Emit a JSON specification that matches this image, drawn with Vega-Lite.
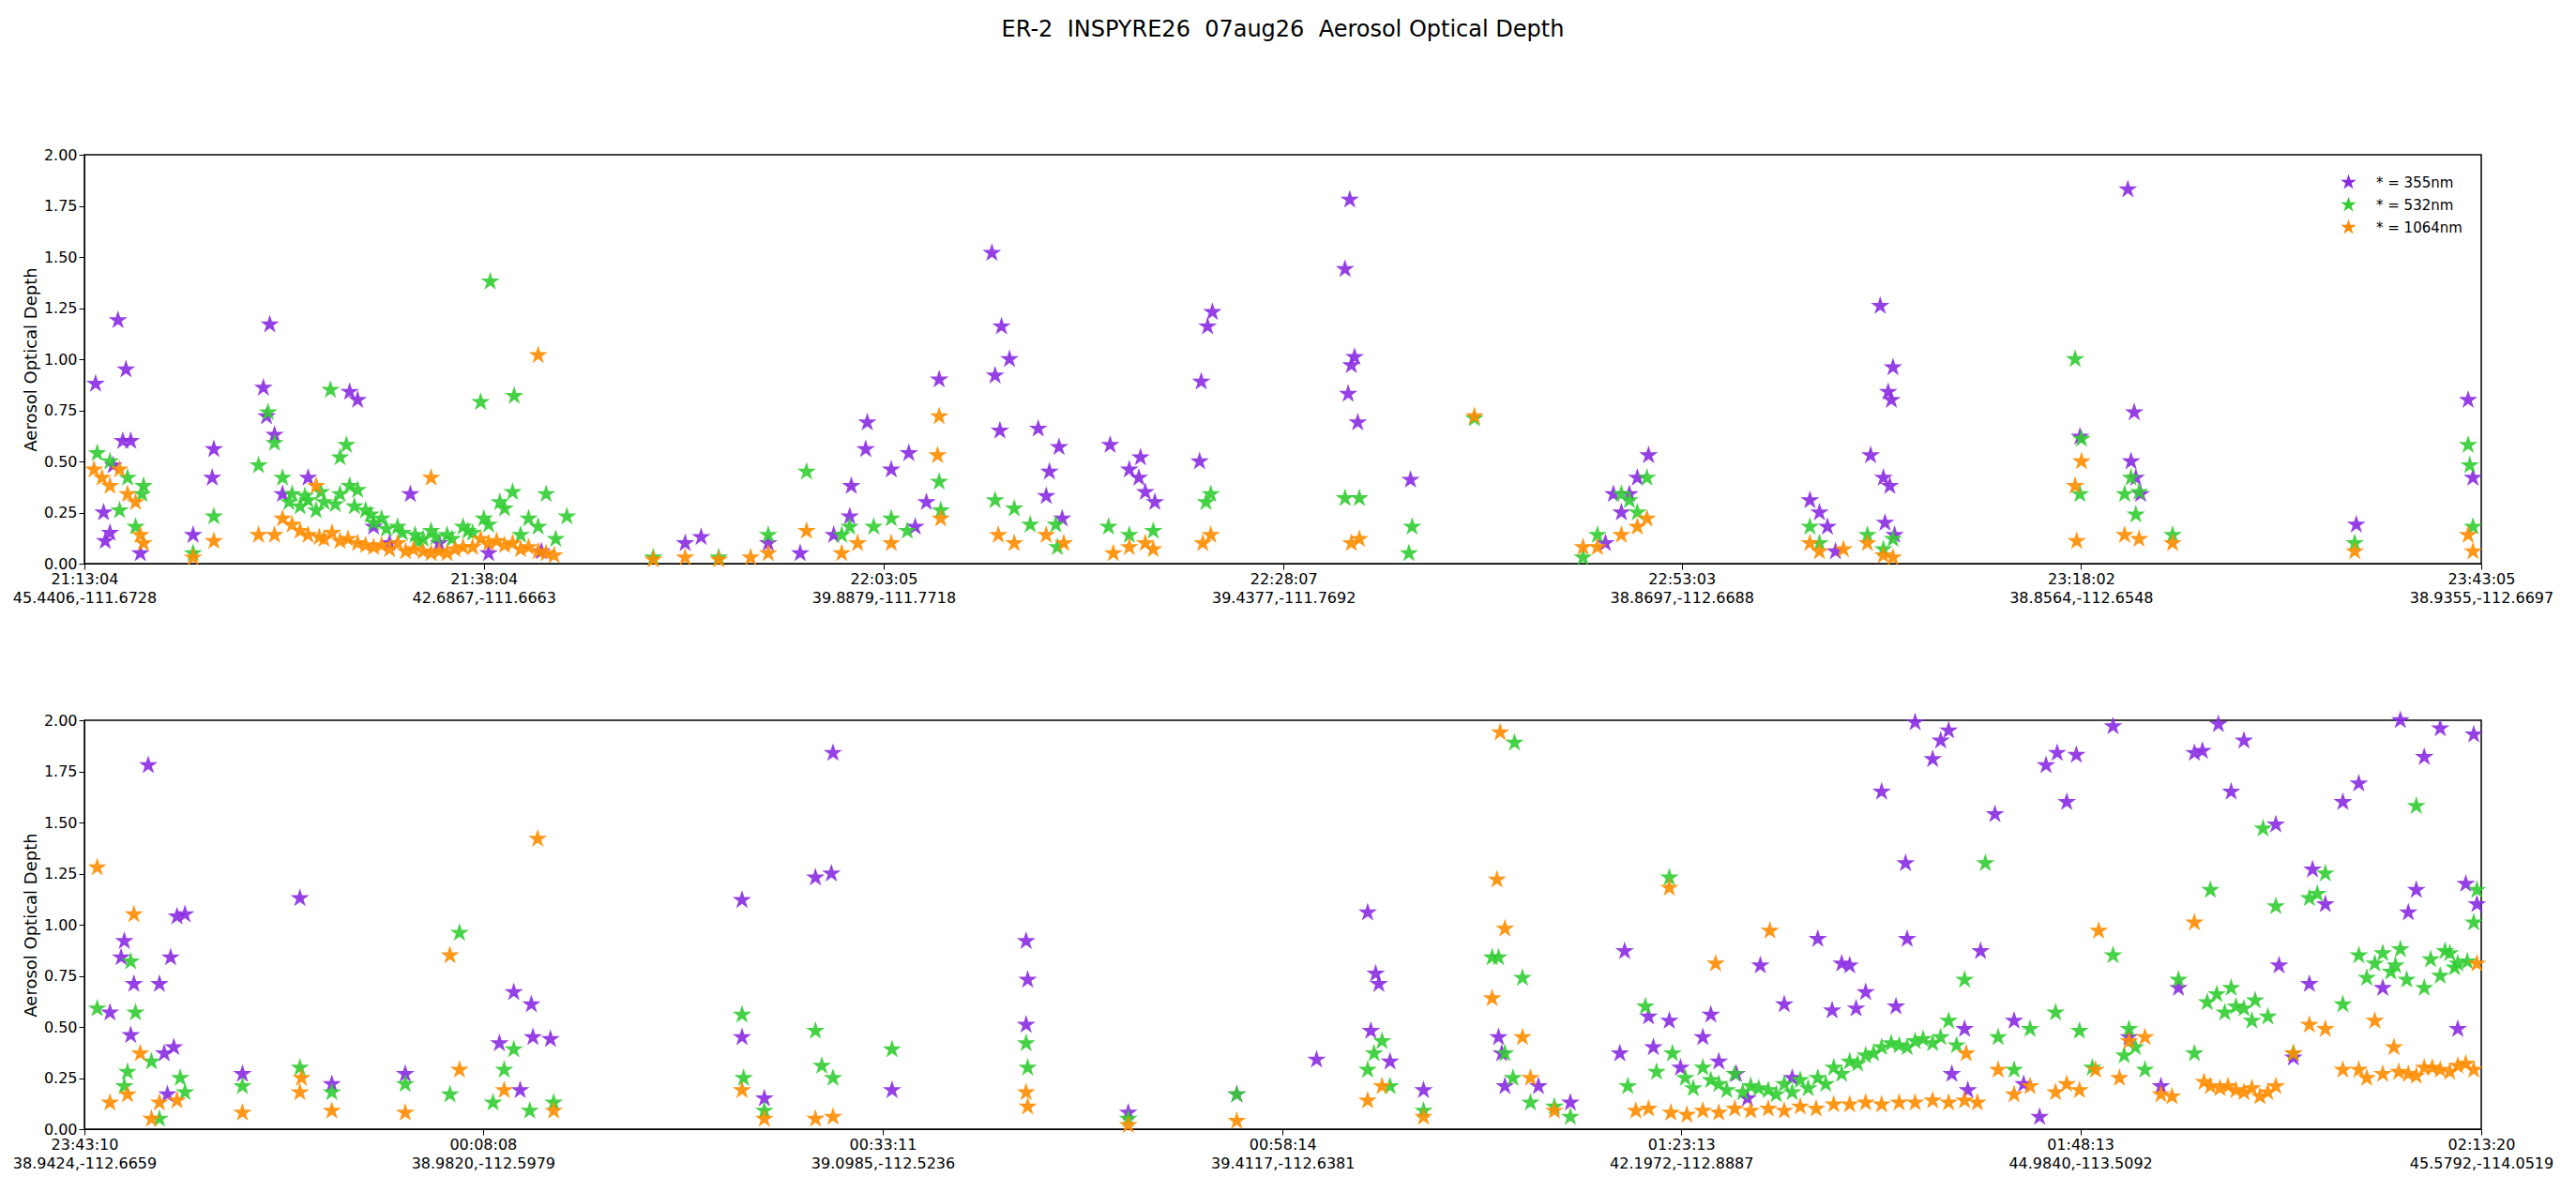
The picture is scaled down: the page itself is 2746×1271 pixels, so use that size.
{
"$schema":"https://vega.github.io/schema/vega-lite/v6.json",
"background":"white",
"padding":{"left":12,"top":20,"right":5,"bottom":5},
"title":{"text":"ER-2\u00a0\u00a0INSPYRE26\u00a0\u00a007aug26\u00a0\u00a0Aerosol Optical Depth","anchor":"middle","frame":"group","fontSize":24,"fontWeight":"normal","font":"DejaVu Sans","offset":112,"color":"black"},
"config":{"font":"DejaVu Sans","view":{"stroke":"black","strokeWidth":1.5},"axis":{"grid":false,"domainColor":"black","tickColor":"black","labelColor":"black","labelFontSize":16,"titleFontSize":18,"titleFontWeight":"normal","titleColor":"black","tickSize":6,"labelLineHeight":20,"labelFlush":false}},
"data":{"values":[
{"p":1,"b":"* = 355nm","t":0.7,"a":0.88},{"p":1,"b":"* = 355nm","t":1.3,"a":0.11},{"p":1,"b":"* = 355nm","t":2.1,"a":1.19},{"p":1,"b":"* = 355nm","t":2.6,"a":0.95},{"p":1,"b":"* = 355nm","t":2.4,"a":0.6},{"p":1,"b":"* = 355nm","t":2.9,"a":0.6},{"p":1,"b":"* = 355nm","t":1.8,"a":0.48},{"p":1,"b":"* = 355nm","t":1.2,"a":0.25},{"p":1,"b":"* = 355nm","t":1.6,"a":0.15},{"p":1,"b":"* = 355nm","t":3.5,"a":0.05},
{"p":1,"b":"* = 355nm","t":6.8,"a":0.14},{"p":1,"b":"* = 355nm","t":8.1,"a":0.56},{"p":1,"b":"* = 355nm","t":8.0,"a":0.42},{"p":1,"b":"* = 355nm","t":11.2,"a":0.86},{"p":1,"b":"* = 355nm","t":11.6,"a":1.17},{"p":1,"b":"* = 355nm","t":11.9,"a":0.63},{"p":1,"b":"* = 355nm","t":11.4,"a":0.72},{"p":1,"b":"* = 355nm","t":12.4,"a":0.34},{"p":1,"b":"* = 355nm","t":14.0,"a":0.42},{"p":1,"b":"* = 355nm","t":16.6,"a":0.84},{"p":1,"b":"* = 355nm","t":17.1,"a":0.8},{"p":1,"b":"* = 355nm","t":20.4,"a":0.34},{"p":1,"b":"* = 355nm","t":18.1,"a":0.18},{"p":1,"b":"* = 355nm","t":19.1,"a":0.1},{"p":1,"b":"* = 355nm","t":22.2,"a":0.1},{"p":1,"b":"* = 355nm","t":25.3,"a":0.05},{"p":1,"b":"* = 355nm","t":28.6,"a":0.06},
{"p":1,"b":"* = 355nm","t":37.6,"a":0.1},{"p":1,"b":"* = 355nm","t":38.6,"a":0.13},{"p":1,"b":"* = 355nm","t":42.8,"a":0.1},{"p":1,"b":"* = 355nm","t":44.8,"a":0.05},{"p":1,"b":"* = 355nm","t":46.9,"a":0.14},{"p":1,"b":"* = 355nm","t":47.9,"a":0.23},{"p":1,"b":"* = 355nm","t":48.0,"a":0.38},{"p":1,"b":"* = 355nm","t":49.0,"a":0.69},{"p":1,"b":"* = 355nm","t":48.9,"a":0.56},{"p":1,"b":"* = 355nm","t":50.5,"a":0.46},{"p":1,"b":"* = 355nm","t":51.6,"a":0.54},{"p":1,"b":"* = 355nm","t":53.5,"a":0.9},{"p":1,"b":"* = 355nm","t":52.7,"a":0.3},{"p":1,"b":"* = 355nm","t":52.0,"a":0.18},
{"p":1,"b":"* = 355nm","t":56.8,"a":1.52},{"p":1,"b":"* = 355nm","t":57.4,"a":1.16},{"p":1,"b":"* = 355nm","t":57.0,"a":0.92},{"p":1,"b":"* = 355nm","t":57.9,"a":1.0},{"p":1,"b":"* = 355nm","t":57.3,"a":0.65},{"p":1,"b":"* = 355nm","t":59.7,"a":0.66},{"p":1,"b":"* = 355nm","t":60.4,"a":0.45},{"p":1,"b":"* = 355nm","t":61.0,"a":0.57},{"p":1,"b":"* = 355nm","t":60.2,"a":0.33},{"p":1,"b":"* = 355nm","t":61.2,"a":0.22},
{"p":1,"b":"* = 355nm","t":64.2,"a":0.58},{"p":1,"b":"* = 355nm","t":65.4,"a":0.46},{"p":1,"b":"* = 355nm","t":66.1,"a":0.52},{"p":1,"b":"* = 355nm","t":66.0,"a":0.42},{"p":1,"b":"* = 355nm","t":66.4,"a":0.35},{"p":1,"b":"* = 355nm","t":67.0,"a":0.3},
{"p":1,"b":"* = 355nm","t":69.9,"a":0.89},{"p":1,"b":"* = 355nm","t":70.3,"a":1.16},{"p":1,"b":"* = 355nm","t":70.6,"a":1.23},{"p":1,"b":"* = 355nm","t":69.8,"a":0.5},
{"p":1,"b":"* = 355nm","t":78.9,"a":1.44},{"p":1,"b":"* = 355nm","t":79.2,"a":1.78},{"p":1,"b":"* = 355nm","t":79.5,"a":1.01},{"p":1,"b":"* = 355nm","t":79.1,"a":0.83},{"p":1,"b":"* = 355nm","t":79.3,"a":0.97},{"p":1,"b":"* = 355nm","t":79.7,"a":0.69},{"p":1,"b":"* = 355nm","t":83.0,"a":0.41},
{"p":1,"b":"* = 355nm","t":95.7,"a":0.34},{"p":1,"b":"* = 355nm","t":96.2,"a":0.25},{"p":1,"b":"* = 355nm","t":96.7,"a":0.34},{"p":1,"b":"* = 355nm","t":97.2,"a":0.42},{"p":1,"b":"* = 355nm","t":97.9,"a":0.53},{"p":1,"b":"* = 355nm","t":95.2,"a":0.1},
{"p":1,"b":"* = 355nm","t":108.0,"a":0.31},{"p":1,"b":"* = 355nm","t":108.6,"a":0.25},{"p":1,"b":"* = 355nm","t":109.1,"a":0.18},{"p":1,"b":"* = 355nm","t":109.6,"a":0.06},{"p":1,"b":"* = 355nm","t":111.8,"a":0.53},{"p":1,"b":"* = 355nm","t":112.4,"a":1.26},{"p":1,"b":"* = 355nm","t":112.6,"a":0.42},{"p":1,"b":"* = 355nm","t":113.0,"a":0.38},{"p":1,"b":"* = 355nm","t":113.2,"a":0.96},{"p":1,"b":"* = 355nm","t":112.9,"a":0.84},{"p":1,"b":"* = 355nm","t":113.1,"a":0.8},{"p":1,"b":"* = 355nm","t":112.7,"a":0.2},{"p":1,"b":"* = 355nm","t":113.3,"a":0.14},
{"p":1,"b":"* = 355nm","t":124.9,"a":0.62},{"p":1,"b":"* = 355nm","t":127.9,"a":1.83},{"p":1,"b":"* = 355nm","t":128.3,"a":0.74},{"p":1,"b":"* = 355nm","t":128.1,"a":0.5},{"p":1,"b":"* = 355nm","t":128.7,"a":0.34},{"p":1,"b":"* = 355nm","t":128.4,"a":0.42},{"p":1,"b":"* = 355nm","t":142.2,"a":0.19},{"p":1,"b":"* = 355nm","t":149.2,"a":0.8},{"p":1,"b":"* = 355nm","t":149.5,"a":0.42},

{"p":1,"b":"* = 532nm","t":0.8,"a":0.54},{"p":1,"b":"* = 532nm","t":1.6,"a":0.5},{"p":1,"b":"* = 532nm","t":2.7,"a":0.42},{"p":1,"b":"* = 532nm","t":3.7,"a":0.38},{"p":1,"b":"* = 532nm","t":2.2,"a":0.26},{"p":1,"b":"* = 532nm","t":3.2,"a":0.18},{"p":1,"b":"* = 532nm","t":3.6,"a":0.34},
{"p":1,"b":"* = 532nm","t":6.8,"a":0.05},{"p":1,"b":"* = 532nm","t":8.1,"a":0.23},{"p":1,"b":"* = 532nm","t":10.9,"a":0.48},{"p":1,"b":"* = 532nm","t":11.5,"a":0.74},{"p":1,"b":"* = 532nm","t":11.9,"a":0.59},{"p":1,"b":"* = 532nm","t":12.4,"a":0.42},{"p":1,"b":"* = 532nm","t":13.0,"a":0.34},{"p":1,"b":"* = 532nm","t":14.0,"a":0.31},{"p":1,"b":"* = 532nm","t":15.0,"a":0.3},{"p":1,"b":"* = 532nm","t":16.0,"a":0.34},{"p":1,"b":"* = 532nm","t":16.6,"a":0.38},{"p":1,"b":"* = 532nm","t":17.1,"a":0.36},{"p":1,"b":"* = 532nm","t":15.4,"a":0.85},{"p":1,"b":"* = 532nm","t":16.4,"a":0.58},{"p":1,"b":"* = 532nm","t":16.0,"a":0.52},{"p":1,"b":"* = 532nm","t":17.6,"a":0.26},{"p":1,"b":"* = 532nm","t":18.6,"a":0.22},{"p":1,"b":"* = 532nm","t":19.6,"a":0.18},{"p":1,"b":"* = 532nm","t":20.7,"a":0.14},{"p":1,"b":"* = 532nm","t":21.7,"a":0.16},{"p":1,"b":"* = 532nm","t":22.7,"a":0.14},{"p":1,"b":"* = 532nm","t":23.7,"a":0.18},{"p":1,"b":"* = 532nm","t":24.8,"a":0.79},{"p":1,"b":"* = 532nm","t":25.4,"a":1.38},{"p":1,"b":"* = 532nm","t":25.3,"a":0.19},{"p":1,"b":"* = 532nm","t":26.3,"a":0.27},{"p":1,"b":"* = 532nm","t":26.8,"a":0.35},{"p":1,"b":"* = 532nm","t":26.9,"a":0.82},{"p":1,"b":"* = 532nm","t":27.3,"a":0.14},{"p":1,"b":"* = 532nm","t":28.4,"a":0.18},{"p":1,"b":"* = 532nm","t":28.9,"a":0.34},{"p":1,"b":"* = 532nm","t":30.2,"a":0.23},{"p":1,"b":"* = 532nm","t":13.5,"a":0.28},{"p":1,"b":"* = 532nm","t":14.5,"a":0.26},{"p":1,"b":"* = 532nm","t":18.1,"a":0.2},{"p":1,"b":"* = 532nm","t":21.2,"a":0.12},{"p":1,"b":"* = 532nm","t":24.3,"a":0.15},
{"p":1,"b":"* = 532nm","t":12.8,"a":0.3},{"p":1,"b":"* = 532nm","t":13.8,"a":0.33},{"p":1,"b":"* = 532nm","t":14.8,"a":0.35},{"p":1,"b":"* = 532nm","t":15.7,"a":0.29},{"p":1,"b":"* = 532nm","t":16.9,"a":0.28},{"p":1,"b":"* = 532nm","t":17.9,"a":0.24},{"p":1,"b":"* = 532nm","t":18.9,"a":0.17},{"p":1,"b":"* = 532nm","t":19.9,"a":0.15},{"p":1,"b":"* = 532nm","t":20.9,"a":0.11},{"p":1,"b":"* = 532nm","t":22.0,"a":0.13},{"p":1,"b":"* = 532nm","t":23.0,"a":0.12},{"p":1,"b":"* = 532nm","t":24.0,"a":0.16},{"p":1,"b":"* = 532nm","t":25.0,"a":0.22},{"p":1,"b":"* = 532nm","t":26.0,"a":0.3},{"p":1,"b":"* = 532nm","t":27.8,"a":0.22},{"p":1,"b":"* = 532nm","t":29.5,"a":0.12},
{"p":1,"b":"* = 532nm","t":35.6,"a":0.03},{"p":1,"b":"* = 532nm","t":39.7,"a":0.03},{"p":1,"b":"* = 532nm","t":42.8,"a":0.14},{"p":1,"b":"* = 532nm","t":45.2,"a":0.45},{"p":1,"b":"* = 532nm","t":47.4,"a":0.14},{"p":1,"b":"* = 532nm","t":47.9,"a":0.18},{"p":1,"b":"* = 532nm","t":49.4,"a":0.18},{"p":1,"b":"* = 532nm","t":50.5,"a":0.22},{"p":1,"b":"* = 532nm","t":51.5,"a":0.16},{"p":1,"b":"* = 532nm","t":53.6,"a":0.26},{"p":1,"b":"* = 532nm","t":53.5,"a":0.4},
{"p":1,"b":"* = 532nm","t":57.0,"a":0.31},{"p":1,"b":"* = 532nm","t":58.2,"a":0.27},{"p":1,"b":"* = 532nm","t":59.2,"a":0.19},{"p":1,"b":"* = 532nm","t":60.8,"a":0.19},{"p":1,"b":"* = 532nm","t":60.9,"a":0.08},{"p":1,"b":"* = 532nm","t":64.1,"a":0.18},{"p":1,"b":"* = 532nm","t":65.4,"a":0.14},{"p":1,"b":"* = 532nm","t":66.9,"a":0.16},{"p":1,"b":"* = 532nm","t":70.2,"a":0.3},{"p":1,"b":"* = 532nm","t":70.5,"a":0.34},
{"p":1,"b":"* = 532nm","t":78.9,"a":0.32},{"p":1,"b":"* = 532nm","t":79.8,"a":0.32},{"p":1,"b":"* = 532nm","t":83.1,"a":0.18},{"p":1,"b":"* = 532nm","t":82.9,"a":0.05},{"p":1,"b":"* = 532nm","t":87.0,"a":0.71},
{"p":1,"b":"* = 532nm","t":93.8,"a":0.03},{"p":1,"b":"* = 532nm","t":94.7,"a":0.14},{"p":1,"b":"* = 532nm","t":96.2,"a":0.34},{"p":1,"b":"* = 532nm","t":96.7,"a":0.31},{"p":1,"b":"* = 532nm","t":97.8,"a":0.42},{"p":1,"b":"* = 532nm","t":97.2,"a":0.25},
{"p":1,"b":"* = 532nm","t":108.0,"a":0.18},{"p":1,"b":"* = 532nm","t":108.6,"a":0.1},{"p":1,"b":"* = 532nm","t":111.6,"a":0.14},{"p":1,"b":"* = 532nm","t":112.6,"a":0.07},{"p":1,"b":"* = 532nm","t":113.2,"a":0.12},
{"p":1,"b":"* = 532nm","t":124.6,"a":1.0},{"p":1,"b":"* = 532nm","t":124.9,"a":0.34},{"p":1,"b":"* = 532nm","t":125.0,"a":0.61},{"p":1,"b":"* = 532nm","t":127.7,"a":0.34},{"p":1,"b":"* = 532nm","t":128.1,"a":0.42},{"p":1,"b":"* = 532nm","t":128.6,"a":0.35},{"p":1,"b":"* = 532nm","t":128.4,"a":0.24},{"p":1,"b":"* = 532nm","t":130.7,"a":0.14},{"p":1,"b":"* = 532nm","t":142.1,"a":0.1},{"p":1,"b":"* = 532nm","t":149.2,"a":0.58},{"p":1,"b":"* = 532nm","t":149.3,"a":0.48},{"p":1,"b":"* = 532nm","t":149.5,"a":0.18},

{"p":1,"b":"* = 1064nm","t":0.6,"a":0.46},{"p":1,"b":"* = 1064nm","t":1.1,"a":0.42},{"p":1,"b":"* = 1064nm","t":1.6,"a":0.38},{"p":1,"b":"* = 1064nm","t":2.2,"a":0.46},{"p":1,"b":"* = 1064nm","t":2.7,"a":0.34},{"p":1,"b":"* = 1064nm","t":3.2,"a":0.3},{"p":1,"b":"* = 1064nm","t":3.5,"a":0.14},{"p":1,"b":"* = 1064nm","t":3.7,"a":0.1},{"p":1,"b":"* = 1064nm","t":6.8,"a":0.03},{"p":1,"b":"* = 1064nm","t":8.1,"a":0.11},{"p":1,"b":"* = 1064nm","t":10.9,"a":0.14},{"p":1,"b":"* = 1064nm","t":11.9,"a":0.14},{"p":1,"b":"* = 1064nm","t":12.4,"a":0.22},{"p":1,"b":"* = 1064nm","t":13.0,"a":0.19},
{"p":1,"b":"* = 1064nm","t":14.0,"a":0.14},{"p":1,"b":"* = 1064nm","t":15.0,"a":0.12},{"p":1,"b":"* = 1064nm","t":16.0,"a":0.11},{"p":1,"b":"* = 1064nm","t":17.1,"a":0.1},{"p":1,"b":"* = 1064nm","t":18.1,"a":0.08},{"p":1,"b":"* = 1064nm","t":19.1,"a":0.07},{"p":1,"b":"* = 1064nm","t":20.1,"a":0.06},{"p":1,"b":"* = 1064nm","t":21.2,"a":0.06},{"p":1,"b":"* = 1064nm","t":22.2,"a":0.06},{"p":1,"b":"* = 1064nm","t":23.2,"a":0.07},{"p":1,"b":"* = 1064nm","t":24.3,"a":0.08},{"p":1,"b":"* = 1064nm","t":25.3,"a":0.1},{"p":1,"b":"* = 1064nm","t":26.3,"a":0.09},{"p":1,"b":"* = 1064nm","t":27.3,"a":0.07},{"p":1,"b":"* = 1064nm","t":28.4,"a":0.06},{"p":1,"b":"* = 1064nm","t":29.4,"a":0.04},{"p":1,"b":"* = 1064nm","t":14.5,"a":0.38},{"p":1,"b":"* = 1064nm","t":21.7,"a":0.42},{"p":1,"b":"* = 1064nm","t":28.4,"a":1.02},{"p":1,"b":"* = 1064nm","t":15.5,"a":0.15},{"p":1,"b":"* = 1064nm","t":19.6,"a":0.1},{"p":1,"b":"* = 1064nm","t":24.8,"a":0.12},
{"p":1,"b":"* = 1064nm","t":13.5,"a":0.16},{"p":1,"b":"* = 1064nm","t":14.7,"a":0.13},{"p":1,"b":"* = 1064nm","t":16.5,"a":0.12},{"p":1,"b":"* = 1064nm","t":17.6,"a":0.09},{"p":1,"b":"* = 1064nm","t":18.6,"a":0.09},{"p":1,"b":"* = 1064nm","t":20.6,"a":0.07},{"p":1,"b":"* = 1064nm","t":21.7,"a":0.05},{"p":1,"b":"* = 1064nm","t":22.7,"a":0.05},{"p":1,"b":"* = 1064nm","t":23.7,"a":0.08},{"p":1,"b":"* = 1064nm","t":25.8,"a":0.11},{"p":1,"b":"* = 1064nm","t":26.8,"a":0.1},{"p":1,"b":"* = 1064nm","t":27.8,"a":0.08},{"p":1,"b":"* = 1064nm","t":28.9,"a":0.05},
{"p":1,"b":"* = 1064nm","t":35.6,"a":0.02},{"p":1,"b":"* = 1064nm","t":37.6,"a":0.03},{"p":1,"b":"* = 1064nm","t":39.7,"a":0.02},{"p":1,"b":"* = 1064nm","t":41.7,"a":0.03},{"p":1,"b":"* = 1064nm","t":42.8,"a":0.05},{"p":1,"b":"* = 1064nm","t":45.2,"a":0.16},{"p":1,"b":"* = 1064nm","t":47.4,"a":0.05},{"p":1,"b":"* = 1064nm","t":48.4,"a":0.1},{"p":1,"b":"* = 1064nm","t":50.5,"a":0.1},{"p":1,"b":"* = 1064nm","t":53.5,"a":0.72},{"p":1,"b":"* = 1064nm","t":53.4,"a":0.53},{"p":1,"b":"* = 1064nm","t":53.6,"a":0.22},
{"p":1,"b":"* = 1064nm","t":57.2,"a":0.14},{"p":1,"b":"* = 1064nm","t":58.2,"a":0.1},{"p":1,"b":"* = 1064nm","t":60.2,"a":0.14},{"p":1,"b":"* = 1064nm","t":61.3,"a":0.1},{"p":1,"b":"* = 1064nm","t":64.4,"a":0.05},{"p":1,"b":"* = 1064nm","t":65.4,"a":0.08},{"p":1,"b":"* = 1064nm","t":66.4,"a":0.1},{"p":1,"b":"* = 1064nm","t":66.9,"a":0.07},{"p":1,"b":"* = 1064nm","t":70.0,"a":0.1},{"p":1,"b":"* = 1064nm","t":70.5,"a":0.14},
{"p":1,"b":"* = 1064nm","t":79.3,"a":0.1},{"p":1,"b":"* = 1064nm","t":79.8,"a":0.12},{"p":1,"b":"* = 1064nm","t":87.0,"a":0.72},{"p":1,"b":"* = 1064nm","t":93.8,"a":0.08},{"p":1,"b":"* = 1064nm","t":94.7,"a":0.08},{"p":1,"b":"* = 1064nm","t":96.2,"a":0.14},{"p":1,"b":"* = 1064nm","t":97.2,"a":0.18},{"p":1,"b":"* = 1064nm","t":97.8,"a":0.22},
{"p":1,"b":"* = 1064nm","t":108.0,"a":0.1},{"p":1,"b":"* = 1064nm","t":108.6,"a":0.06},{"p":1,"b":"* = 1064nm","t":110.1,"a":0.07},{"p":1,"b":"* = 1064nm","t":111.6,"a":0.1},{"p":1,"b":"* = 1064nm","t":112.6,"a":0.04},{"p":1,"b":"* = 1064nm","t":113.2,"a":0.03},
{"p":1,"b":"* = 1064nm","t":124.6,"a":0.38},{"p":1,"b":"* = 1064nm","t":125.0,"a":0.5},{"p":1,"b":"* = 1064nm","t":124.7,"a":0.11},{"p":1,"b":"* = 1064nm","t":127.7,"a":0.14},{"p":1,"b":"* = 1064nm","t":128.6,"a":0.12},{"p":1,"b":"* = 1064nm","t":130.7,"a":0.1},{"p":1,"b":"* = 1064nm","t":142.1,"a":0.06},{"p":1,"b":"* = 1064nm","t":149.2,"a":0.14},{"p":1,"b":"* = 1064nm","t":149.5,"a":0.06},

{"p":2,"b":"* = 355nm","t":1.6,"a":0.57},{"p":2,"b":"* = 355nm","t":2.5,"a":0.92},{"p":2,"b":"* = 355nm","t":2.3,"a":0.84},{"p":2,"b":"* = 355nm","t":3.1,"a":0.71},{"p":2,"b":"* = 355nm","t":2.9,"a":0.46},{"p":2,"b":"* = 355nm","t":4.0,"a":1.78},{"p":2,"b":"* = 355nm","t":4.7,"a":0.71},{"p":2,"b":"* = 355nm","t":5.4,"a":0.84},{"p":2,"b":"* = 355nm","t":5.8,"a":1.04},{"p":2,"b":"* = 355nm","t":6.3,"a":1.05},{"p":2,"b":"* = 355nm","t":5.0,"a":0.37},{"p":2,"b":"* = 355nm","t":5.6,"a":0.4},{"p":2,"b":"* = 355nm","t":5.2,"a":0.17},{"p":2,"b":"* = 355nm","t":9.9,"a":0.27},{"p":2,"b":"* = 355nm","t":13.5,"a":1.13},{"p":2,"b":"* = 355nm","t":15.5,"a":0.22},{"p":2,"b":"* = 355nm","t":20.1,"a":0.27},
{"p":2,"b":"* = 355nm","t":26.0,"a":0.42},{"p":2,"b":"* = 355nm","t":26.9,"a":0.67},{"p":2,"b":"* = 355nm","t":28.0,"a":0.61},{"p":2,"b":"* = 355nm","t":28.1,"a":0.45},{"p":2,"b":"* = 355nm","t":29.2,"a":0.44},{"p":2,"b":"* = 355nm","t":27.3,"a":0.19},
{"p":2,"b":"* = 355nm","t":41.2,"a":1.12},{"p":2,"b":"* = 355nm","t":41.2,"a":0.45},{"p":2,"b":"* = 355nm","t":42.6,"a":0.15},{"p":2,"b":"* = 355nm","t":45.8,"a":1.23},{"p":2,"b":"* = 355nm","t":46.8,"a":1.25},{"p":2,"b":"* = 355nm","t":46.9,"a":1.84},{"p":2,"b":"* = 355nm","t":50.6,"a":0.19},{"p":2,"b":"* = 355nm","t":59.0,"a":0.92},{"p":2,"b":"* = 355nm","t":59.1,"a":0.73},{"p":2,"b":"* = 355nm","t":59.0,"a":0.51},{"p":2,"b":"* = 355nm","t":65.4,"a":0.08},{"p":2,"b":"* = 355nm","t":72.2,"a":0.17},{"p":2,"b":"* = 355nm","t":77.2,"a":0.34},
{"p":2,"b":"* = 355nm","t":80.4,"a":1.06},{"p":2,"b":"* = 355nm","t":80.6,"a":0.48},{"p":2,"b":"* = 355nm","t":80.9,"a":0.76},{"p":2,"b":"* = 355nm","t":81.1,"a":0.71},{"p":2,"b":"* = 355nm","t":81.8,"a":0.33},{"p":2,"b":"* = 355nm","t":83.9,"a":0.19},{"p":2,"b":"* = 355nm","t":88.6,"a":0.45},{"p":2,"b":"* = 355nm","t":88.8,"a":0.37},{"p":2,"b":"* = 355nm","t":89.0,"a":0.21},{"p":2,"b":"* = 355nm","t":91.1,"a":0.21},{"p":2,"b":"* = 355nm","t":93.1,"a":0.13},
{"p":2,"b":"* = 355nm","t":96.2,"a":0.37},{"p":2,"b":"* = 355nm","t":96.5,"a":0.87},{"p":2,"b":"* = 355nm","t":98.0,"a":0.55},{"p":2,"b":"* = 355nm","t":98.3,"a":0.4},{"p":2,"b":"* = 355nm","t":99.3,"a":0.53},{"p":2,"b":"* = 355nm","t":101.4,"a":0.45},{"p":2,"b":"* = 355nm","t":101.9,"a":0.56},{"p":2,"b":"* = 355nm","t":102.4,"a":0.33},{"p":2,"b":"* = 355nm","t":105.0,"a":0.8},{"p":2,"b":"* = 355nm","t":106.5,"a":0.61},{"p":2,"b":"* = 355nm","t":108.6,"a":0.93},{"p":2,"b":"* = 355nm","t":110.1,"a":0.81},{"p":2,"b":"* = 355nm","t":110.6,"a":0.8},{"p":2,"b":"* = 355nm","t":111.6,"a":0.67},{"p":2,"b":"* = 355nm","t":112.6,"a":1.65},{"p":2,"b":"* = 355nm","t":114.2,"a":0.93},{"p":2,"b":"* = 355nm","t":114.1,"a":1.3},{"p":2,"b":"* = 355nm","t":114.7,"a":1.99},{"p":2,"b":"* = 355nm","t":115.8,"a":1.81},{"p":2,"b":"* = 355nm","t":116.3,"a":1.9},{"p":2,"b":"* = 355nm","t":116.8,"a":1.95},{"p":2,"b":"* = 355nm","t":117.8,"a":0.49},{"p":2,"b":"* = 355nm","t":118.8,"a":0.87},{"p":2,"b":"* = 355nm","t":119.7,"a":1.54},{"p":2,"b":"* = 355nm","t":120.9,"a":0.53},
{"p":2,"b":"* = 355nm","t":100.0,"a":0.3},{"p":2,"b":"* = 355nm","t":103.5,"a":0.27},{"p":2,"b":"* = 355nm","t":104.2,"a":0.15},{"p":2,"b":"* = 355nm","t":107.0,"a":0.25},{"p":2,"b":"* = 355nm","t":109.5,"a":0.58},{"p":2,"b":"* = 355nm","t":111.0,"a":0.59},{"p":2,"b":"* = 355nm","t":113.5,"a":0.6},{"p":2,"b":"* = 355nm","t":117.0,"a":0.27},{"p":2,"b":"* = 355nm","t":118.0,"a":0.19},{"p":2,"b":"* = 355nm","t":121.5,"a":0.22},{"p":2,"b":"* = 355nm","t":122.5,"a":0.06},
{"p":2,"b":"* = 355nm","t":122.9,"a":1.78},{"p":2,"b":"* = 355nm","t":123.6,"a":1.84},{"p":2,"b":"* = 355nm","t":124.2,"a":1.6},{"p":2,"b":"* = 355nm","t":124.8,"a":1.83},{"p":2,"b":"* = 355nm","t":127.1,"a":1.97},{"p":2,"b":"* = 355nm","t":128.1,"a":0.45},{"p":2,"b":"* = 355nm","t":130.1,"a":0.21},{"p":2,"b":"* = 355nm","t":131.2,"a":0.69},{"p":2,"b":"* = 355nm","t":132.2,"a":1.84},{"p":2,"b":"* = 355nm","t":132.7,"a":1.85},{"p":2,"b":"* = 355nm","t":133.7,"a":1.98},{"p":2,"b":"* = 355nm","t":134.5,"a":1.65},{"p":2,"b":"* = 355nm","t":135.3,"a":1.9},{"p":2,"b":"* = 355nm","t":137.3,"a":1.49},{"p":2,"b":"* = 355nm","t":137.5,"a":0.8},{"p":2,"b":"* = 355nm","t":138.4,"a":0.35},{"p":2,"b":"* = 355nm","t":139.4,"a":0.71},{"p":2,"b":"* = 355nm","t":139.6,"a":1.27},{"p":2,"b":"* = 355nm","t":140.4,"a":1.1},{"p":2,"b":"* = 355nm","t":141.5,"a":1.6},{"p":2,"b":"* = 355nm","t":142.5,"a":1.69},{"p":2,"b":"* = 355nm","t":144.0,"a":0.69},{"p":2,"b":"* = 355nm","t":145.1,"a":2.0},{"p":2,"b":"* = 355nm","t":145.6,"a":1.06},{"p":2,"b":"* = 355nm","t":146.1,"a":1.17},{"p":2,"b":"* = 355nm","t":146.6,"a":1.82},{"p":2,"b":"* = 355nm","t":147.6,"a":1.96},{"p":2,"b":"* = 355nm","t":148.7,"a":0.49},{"p":2,"b":"* = 355nm","t":149.7,"a":1.93},{"p":2,"b":"* = 355nm","t":149.2,"a":1.2},{"p":2,"b":"* = 355nm","t":149.9,"a":1.1},

{"p":2,"b":"* = 532nm","t":0.8,"a":0.59},{"p":2,"b":"* = 532nm","t":2.7,"a":0.28},{"p":2,"b":"* = 532nm","t":2.9,"a":0.82},{"p":2,"b":"* = 532nm","t":2.5,"a":0.21},{"p":2,"b":"* = 532nm","t":3.2,"a":0.57},{"p":2,"b":"* = 532nm","t":4.2,"a":0.33},{"p":2,"b":"* = 532nm","t":4.7,"a":0.05},{"p":2,"b":"* = 532nm","t":6.0,"a":0.25},{"p":2,"b":"* = 532nm","t":6.3,"a":0.18},{"p":2,"b":"* = 532nm","t":9.9,"a":0.21},{"p":2,"b":"* = 532nm","t":13.5,"a":0.3},{"p":2,"b":"* = 532nm","t":15.5,"a":0.18},{"p":2,"b":"* = 532nm","t":20.1,"a":0.22},{"p":2,"b":"* = 532nm","t":22.9,"a":0.17},{"p":2,"b":"* = 532nm","t":23.5,"a":0.96},{"p":2,"b":"* = 532nm","t":25.6,"a":0.13},{"p":2,"b":"* = 532nm","t":26.3,"a":0.29},{"p":2,"b":"* = 532nm","t":26.9,"a":0.39},{"p":2,"b":"* = 532nm","t":27.9,"a":0.09},{"p":2,"b":"* = 532nm","t":29.4,"a":0.13},
{"p":2,"b":"* = 532nm","t":41.2,"a":0.56},{"p":2,"b":"* = 532nm","t":41.3,"a":0.25},{"p":2,"b":"* = 532nm","t":42.6,"a":0.09},{"p":2,"b":"* = 532nm","t":45.8,"a":0.48},{"p":2,"b":"* = 532nm","t":46.2,"a":0.31},{"p":2,"b":"* = 532nm","t":46.9,"a":0.25},{"p":2,"b":"* = 532nm","t":50.6,"a":0.39},{"p":2,"b":"* = 532nm","t":59.0,"a":0.42},{"p":2,"b":"* = 532nm","t":59.1,"a":0.3},{"p":2,"b":"* = 532nm","t":65.4,"a":0.05},{"p":2,"b":"* = 532nm","t":72.2,"a":0.17},
{"p":2,"b":"* = 532nm","t":80.4,"a":0.29},{"p":2,"b":"* = 532nm","t":80.8,"a":0.37},{"p":2,"b":"* = 532nm","t":81.3,"a":0.43},{"p":2,"b":"* = 532nm","t":81.8,"a":0.21},{"p":2,"b":"* = 532nm","t":83.9,"a":0.09},{"p":2,"b":"* = 532nm","t":88.2,"a":0.84},{"p":2,"b":"* = 532nm","t":88.6,"a":0.84},{"p":2,"b":"* = 532nm","t":89.6,"a":1.89},{"p":2,"b":"* = 532nm","t":90.1,"a":0.74},{"p":2,"b":"* = 532nm","t":89.0,"a":0.37},{"p":2,"b":"* = 532nm","t":89.5,"a":0.25},{"p":2,"b":"* = 532nm","t":90.6,"a":0.13},{"p":2,"b":"* = 532nm","t":92.1,"a":0.11},{"p":2,"b":"* = 532nm","t":93.1,"a":0.06},
{"p":2,"b":"* = 532nm","t":96.7,"a":0.21},{"p":2,"b":"* = 532nm","t":97.8,"a":0.6},{"p":2,"b":"* = 532nm","t":99.3,"a":1.23},{"p":2,"b":"* = 532nm","t":99.5,"a":0.37},{"p":2,"b":"* = 532nm","t":100.3,"a":0.25},{"p":2,"b":"* = 532nm","t":102.4,"a":0.22},{"p":2,"b":"* = 532nm","t":104.4,"a":0.21},{"p":2,"b":"* = 532nm","t":106.5,"a":0.22},{"p":2,"b":"* = 532nm","t":108.6,"a":0.25},{"p":2,"b":"* = 532nm","t":110.6,"a":0.33},{"p":2,"b":"* = 532nm","t":112.6,"a":0.4},{"p":2,"b":"* = 532nm","t":114.7,"a":0.43},{"p":2,"b":"* = 532nm","t":115.8,"a":0.42},{"p":2,"b":"* = 532nm","t":116.8,"a":0.53},{"p":2,"b":"* = 532nm","t":101.4,"a":0.3},{"p":2,"b":"* = 532nm","t":103.4,"a":0.27},{"p":2,"b":"* = 532nm","t":105.5,"a":0.19},{"p":2,"b":"* = 532nm","t":107.5,"a":0.24},{"p":2,"b":"* = 532nm","t":109.6,"a":0.3},{"p":2,"b":"* = 532nm","t":111.6,"a":0.36},{"p":2,"b":"* = 532nm","t":113.7,"a":0.41},
{"p":2,"b":"* = 532nm","t":98.5,"a":0.28},{"p":2,"b":"* = 532nm","t":100.8,"a":0.2},{"p":2,"b":"* = 532nm","t":101.9,"a":0.24},{"p":2,"b":"* = 532nm","t":102.9,"a":0.19},{"p":2,"b":"* = 532nm","t":103.9,"a":0.18},{"p":2,"b":"* = 532nm","t":104.9,"a":0.2},{"p":2,"b":"* = 532nm","t":106.0,"a":0.17},{"p":2,"b":"* = 532nm","t":107.0,"a":0.18},{"p":2,"b":"* = 532nm","t":108.0,"a":0.2},{"p":2,"b":"* = 532nm","t":109.1,"a":0.22},{"p":2,"b":"* = 532nm","t":110.1,"a":0.27},{"p":2,"b":"* = 532nm","t":111.1,"a":0.32},{"p":2,"b":"* = 532nm","t":112.1,"a":0.37},{"p":2,"b":"* = 532nm","t":113.2,"a":0.42},{"p":2,"b":"* = 532nm","t":114.2,"a":0.4},{"p":2,"b":"* = 532nm","t":115.2,"a":0.44},{"p":2,"b":"* = 532nm","t":116.3,"a":0.45},{"p":2,"b":"* = 532nm","t":117.3,"a":0.41},
{"p":2,"b":"* = 532nm","t":117.8,"a":0.73},{"p":2,"b":"* = 532nm","t":119.1,"a":1.3},{"p":2,"b":"* = 532nm","t":119.9,"a":0.45},{"p":2,"b":"* = 532nm","t":120.9,"a":0.29},{"p":2,"b":"* = 532nm","t":121.9,"a":0.49},{"p":2,"b":"* = 532nm","t":123.5,"a":0.57},{"p":2,"b":"* = 532nm","t":125.0,"a":0.48},{"p":2,"b":"* = 532nm","t":127.1,"a":0.85},{"p":2,"b":"* = 532nm","t":128.1,"a":0.49},{"p":2,"b":"* = 532nm","t":129.1,"a":0.29},{"p":2,"b":"* = 532nm","t":131.2,"a":0.73},{"p":2,"b":"* = 532nm","t":132.2,"a":0.37},{"p":2,"b":"* = 532nm","t":133.2,"a":1.17},{"p":2,"b":"* = 532nm","t":134.5,"a":0.69},{"p":2,"b":"* = 532nm","t":134.8,"a":0.6},{"p":2,"b":"* = 532nm","t":135.3,"a":0.59},{"p":2,"b":"* = 532nm","t":135.8,"a":0.53},{"p":2,"b":"* = 532nm","t":136.5,"a":1.47},{"p":2,"b":"* = 532nm","t":137.3,"a":1.09},{"p":2,"b":"* = 532nm","t":138.4,"a":0.37},{"p":2,"b":"* = 532nm","t":139.4,"a":1.13},{"p":2,"b":"* = 532nm","t":139.9,"a":1.15},{"p":2,"b":"* = 532nm","t":140.4,"a":1.25},{"p":2,"b":"* = 532nm","t":141.5,"a":0.61},{"p":2,"b":"* = 532nm","t":142.5,"a":0.85},{"p":2,"b":"* = 532nm","t":143.5,"a":0.81},{"p":2,"b":"* = 532nm","t":144.5,"a":0.77},{"p":2,"b":"* = 532nm","t":146.1,"a":1.58},{"p":2,"b":"* = 532nm","t":146.6,"a":0.69},{"p":2,"b":"* = 532nm","t":147.6,"a":0.75},{"p":2,"b":"* = 532nm","t":148.7,"a":0.81},{"p":2,"b":"* = 532nm","t":149.7,"a":1.01},{"p":2,"b":"* = 532nm","t":149.9,"a":1.17},{"p":2,"b":"* = 532nm","t":148.2,"a":0.86},{"p":2,"b":"* = 532nm","t":145.1,"a":0.88},
{"p":2,"b":"* = 532nm","t":133.0,"a":0.62},{"p":2,"b":"* = 532nm","t":133.6,"a":0.66},{"p":2,"b":"* = 532nm","t":134.1,"a":0.57},{"p":2,"b":"* = 532nm","t":136.0,"a":0.63},{"p":2,"b":"* = 532nm","t":136.8,"a":0.55},{"p":2,"b":"* = 532nm","t":143.0,"a":0.74},{"p":2,"b":"* = 532nm","t":144.0,"a":0.86},{"p":2,"b":"* = 532nm","t":144.8,"a":0.8},{"p":2,"b":"* = 532nm","t":145.5,"a":0.73},{"p":2,"b":"* = 532nm","t":147.0,"a":0.83},{"p":2,"b":"* = 532nm","t":147.9,"a":0.87},{"p":2,"b":"* = 532nm","t":148.5,"a":0.79},{"p":2,"b":"* = 532nm","t":149.3,"a":0.82},{"p":2,"b":"* = 532nm","t":127.8,"a":0.36},{"p":2,"b":"* = 532nm","t":128.5,"a":0.4},{"p":2,"b":"* = 532nm","t":125.8,"a":0.3},
{"p":2,"b":"* = 1064nm","t":0.8,"a":1.28},{"p":2,"b":"* = 1064nm","t":1.6,"a":0.13},{"p":2,"b":"* = 1064nm","t":2.7,"a":0.17},{"p":2,"b":"* = 1064nm","t":3.1,"a":1.05},{"p":2,"b":"* = 1064nm","t":3.5,"a":0.37},{"p":2,"b":"* = 1064nm","t":4.2,"a":0.05},{"p":2,"b":"* = 1064nm","t":4.7,"a":0.13},{"p":2,"b":"* = 1064nm","t":5.8,"a":0.14},{"p":2,"b":"* = 1064nm","t":9.9,"a":0.08},{"p":2,"b":"* = 1064nm","t":13.5,"a":0.18},{"p":2,"b":"* = 1064nm","t":13.6,"a":0.25},{"p":2,"b":"* = 1064nm","t":15.5,"a":0.09},{"p":2,"b":"* = 1064nm","t":20.1,"a":0.08},{"p":2,"b":"* = 1064nm","t":22.9,"a":0.85},{"p":2,"b":"* = 1064nm","t":23.5,"a":0.29},{"p":2,"b":"* = 1064nm","t":26.3,"a":0.19},{"p":2,"b":"* = 1064nm","t":28.4,"a":1.42},{"p":2,"b":"* = 1064nm","t":29.4,"a":0.09},
{"p":2,"b":"* = 1064nm","t":41.2,"a":0.19},{"p":2,"b":"* = 1064nm","t":42.6,"a":0.05},{"p":2,"b":"* = 1064nm","t":45.8,"a":0.05},{"p":2,"b":"* = 1064nm","t":46.9,"a":0.06},{"p":2,"b":"* = 1064nm","t":59.0,"a":0.18},{"p":2,"b":"* = 1064nm","t":59.1,"a":0.11},{"p":2,"b":"* = 1064nm","t":65.4,"a":0.02},{"p":2,"b":"* = 1064nm","t":72.2,"a":0.04},
{"p":2,"b":"* = 1064nm","t":80.4,"a":0.14},{"p":2,"b":"* = 1064nm","t":81.3,"a":0.21},{"p":2,"b":"* = 1064nm","t":83.9,"a":0.06},{"p":2,"b":"* = 1064nm","t":88.5,"a":1.22},{"p":2,"b":"* = 1064nm","t":88.7,"a":1.94},{"p":2,"b":"* = 1064nm","t":89.0,"a":0.98},{"p":2,"b":"* = 1064nm","t":88.2,"a":0.64},{"p":2,"b":"* = 1064nm","t":90.1,"a":0.45},{"p":2,"b":"* = 1064nm","t":90.6,"a":0.25},{"p":2,"b":"* = 1064nm","t":92.1,"a":0.09},{"p":2,"b":"* = 1064nm","t":97.2,"a":0.09},
{"p":2,"b":"* = 1064nm","t":99.3,"a":1.18},{"p":2,"b":"* = 1064nm","t":102.2,"a":0.81},{"p":2,"b":"* = 1064nm","t":99.4,"a":0.08},{"p":2,"b":"* = 1064nm","t":101.4,"a":0.09},{"p":2,"b":"* = 1064nm","t":103.4,"a":0.1},{"p":2,"b":"* = 1064nm","t":105.5,"a":0.1},{"p":2,"b":"* = 1064nm","t":107.5,"a":0.11},{"p":2,"b":"* = 1064nm","t":109.6,"a":0.12},{"p":2,"b":"* = 1064nm","t":111.6,"a":0.13},{"p":2,"b":"* = 1064nm","t":113.7,"a":0.13},{"p":2,"b":"* = 1064nm","t":115.8,"a":0.14},{"p":2,"b":"* = 1064nm","t":117.8,"a":0.14},{"p":2,"b":"* = 1064nm","t":105.6,"a":0.97},{"p":2,"b":"* = 1064nm","t":117.9,"a":0.37},{"p":2,"b":"* = 1064nm","t":119.9,"a":0.29},{"p":2,"b":"* = 1064nm","t":120.9,"a":0.17},{"p":2,"b":"* = 1064nm","t":121.9,"a":0.21},{"p":2,"b":"* = 1064nm","t":123.5,"a":0.18},{"p":2,"b":"* = 1064nm","t":125.0,"a":0.19},{"p":2,"b":"* = 1064nm","t":126.0,"a":0.29},{"p":2,"b":"* = 1064nm","t":126.2,"a":0.97},
{"p":2,"b":"* = 1064nm","t":98.0,"a":0.1},{"p":2,"b":"* = 1064nm","t":100.4,"a":0.07},{"p":2,"b":"* = 1064nm","t":102.4,"a":0.08},{"p":2,"b":"* = 1064nm","t":104.4,"a":0.09},{"p":2,"b":"* = 1064nm","t":106.5,"a":0.09},{"p":2,"b":"* = 1064nm","t":108.5,"a":0.1},{"p":2,"b":"* = 1064nm","t":110.6,"a":0.12},{"p":2,"b":"* = 1064nm","t":112.6,"a":0.12},{"p":2,"b":"* = 1064nm","t":114.7,"a":0.13},{"p":2,"b":"* = 1064nm","t":116.8,"a":0.13},{"p":2,"b":"* = 1064nm","t":118.6,"a":0.13},{"p":2,"b":"* = 1064nm","t":124.2,"a":0.22},{"p":2,"b":"* = 1064nm","t":127.5,"a":0.25},{"p":2,"b":"* = 1064nm","t":130.8,"a":0.16},
{"p":2,"b":"* = 1064nm","t":128.1,"a":0.43},{"p":2,"b":"* = 1064nm","t":129.1,"a":0.45},{"p":2,"b":"* = 1064nm","t":130.1,"a":0.17},{"p":2,"b":"* = 1064nm","t":132.2,"a":1.01},{"p":2,"b":"* = 1064nm","t":133.2,"a":0.21},{"p":2,"b":"* = 1064nm","t":134.3,"a":0.21},{"p":2,"b":"* = 1064nm","t":135.3,"a":0.18},{"p":2,"b":"* = 1064nm","t":136.3,"a":0.16},{"p":2,"b":"* = 1064nm","t":137.3,"a":0.21},{"p":2,"b":"* = 1064nm","t":138.4,"a":0.37},{"p":2,"b":"* = 1064nm","t":139.4,"a":0.51},{"p":2,"b":"* = 1064nm","t":140.4,"a":0.49},{"p":2,"b":"* = 1064nm","t":141.5,"a":0.29},{"p":2,"b":"* = 1064nm","t":142.5,"a":0.29},{"p":2,"b":"* = 1064nm","t":143.5,"a":0.53},{"p":2,"b":"* = 1064nm","t":144.0,"a":0.27},{"p":2,"b":"* = 1064nm","t":144.7,"a":0.4},{"p":2,"b":"* = 1064nm","t":145.6,"a":0.27},{"p":2,"b":"* = 1064nm","t":146.6,"a":0.3},{"p":2,"b":"* = 1064nm","t":147.6,"a":0.29},{"p":2,"b":"* = 1064nm","t":148.7,"a":0.31},{"p":2,"b":"* = 1064nm","t":149.7,"a":0.29},{"p":2,"b":"* = 1064nm","t":149.9,"a":0.81},
{"p":2,"b":"* = 1064nm","t":132.8,"a":0.23},{"p":2,"b":"* = 1064nm","t":133.8,"a":0.2},{"p":2,"b":"* = 1064nm","t":134.8,"a":0.19},{"p":2,"b":"* = 1064nm","t":135.8,"a":0.2},{"p":2,"b":"* = 1064nm","t":136.8,"a":0.18},{"p":2,"b":"* = 1064nm","t":143.0,"a":0.25},{"p":2,"b":"* = 1064nm","t":145.0,"a":0.28},{"p":2,"b":"* = 1064nm","t":146.1,"a":0.26},{"p":2,"b":"* = 1064nm","t":147.1,"a":0.3},{"p":2,"b":"* = 1064nm","t":148.2,"a":0.28},{"p":2,"b":"* = 1064nm","t":149.2,"a":0.32}
]},
"resolve":{"scale":{"color":"independent"},"legend":{"color":"independent"}},
"spacing":110,
"vconcat":[
{"width":2555,"height":436,
"transform":[{"filter":"datum.p==1"}],
"mark":{"type":"point","shape":"M0,-1L0.2245,-0.309L0.9511,-0.309L0.363,0.118L0.5878,0.809L0,0.382L-0.5878,0.809L-0.363,0.118L-0.9511,-0.309L-0.2245,-0.309Z","filled":true,"size":440,"opacity":0.9,"strokeWidth":0},
"encoding":{
"x":{"field":"t","type":"quantitative","scale":{"domain":[0,150.02],"nice":false,"zero":false},
"axis":{"title":null,"values":[0,25,50.02,75.05,99.98,124.97,150.02],
"labelExpr":"datum.value<1?['21:13:04','45.4406,-111.6728']:datum.value<30?['21:38:04','42.6867,-111.6663']:datum.value<60?['22:03:05','39.8879,-111.7718']:datum.value<80?['22:28:07','39.4377,-111.7692']:datum.value<110?['22:53:03','38.8697,-112.6688']:datum.value<140?['23:18:02','38.8564,-112.6548']:['23:43:05','38.9355,-112.6697']"}},
"y":{"field":"a","type":"quantitative","scale":{"domain":[0,2],"nice":false},"axis":{"title":"Aerosol Optical Depth","values":[0,0.25,0.5,0.75,1,1.25,1.5,1.75,2],"format":".2f"}},
"color":{"field":"b","type":"nominal","scale":{"domain":["* = 355nm","* = 532nm","* = 1064nm"],"range":["#8a2be2","#32cd32","#ff8c00"]},
"legend":{"title":null,"orient":"top-right","offset":20,"labelFontSize":15,"symbolType":"M0,-1L0.2245,-0.309L0.9511,-0.309L0.363,0.118L0.5878,0.809L0,0.382L-0.5878,0.809L-0.363,0.118L-0.9511,-0.309L-0.2245,-0.309Z","symbolSize":300,"symbolOpacity":1,"rowPadding":6,"labelOffset":20}}}},
{"width":2555,"height":436,
"transform":[{"filter":"datum.p==2"}],
"mark":{"type":"point","shape":"M0,-1L0.2245,-0.309L0.9511,-0.309L0.363,0.118L0.5878,0.809L0,0.382L-0.5878,0.809L-0.363,0.118L-0.9511,-0.309L-0.2245,-0.309Z","filled":true,"size":440,"opacity":0.9,"strokeWidth":0},
"encoding":{
"x":{"field":"t","type":"quantitative","scale":{"domain":[0,150.17],"nice":false,"zero":false},
"axis":{"title":null,"values":[0,24.97,50.02,75.07,100.05,125.05,150.17],
"labelExpr":"datum.value<1?['23:43:10','38.9424,-112.6659']:datum.value<30?['00:08:08','38.9820,-112.5979']:datum.value<60?['00:33:11','39.0985,-112.5236']:datum.value<80?['00:58:14','39.4117,-112.6381']:datum.value<110?['01:23:13','42.1972,-112.8887']:datum.value<140?['01:48:13','44.9840,-113.5092']:['02:13:20','45.5792,-114.0519']"}},
"y":{"field":"a","type":"quantitative","scale":{"domain":[0,2],"nice":false},"axis":{"title":"Aerosol Optical Depth","values":[0,0.25,0.5,0.75,1,1.25,1.5,1.75,2],"format":".2f"}},
"color":{"field":"b","type":"nominal","scale":{"domain":["* = 355nm","* = 532nm","* = 1064nm"],"range":["#8a2be2","#32cd32","#ff8c00"]},"legend":null}}}
]
}
